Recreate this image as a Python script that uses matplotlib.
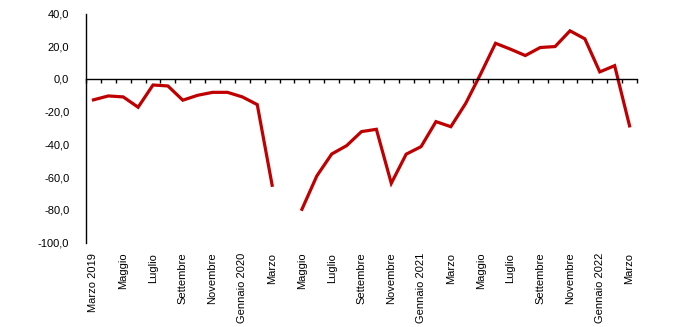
import numpy as np
import matplotlib
matplotlib.use('Agg')
import matplotlib.pyplot as plt

plt.rcParams['font.family'] = ['Liberation Sans', 'DejaVu Sans']

# --- DATI (variazioni %, marzo 2019 - marzo 2022) ---
mesi = ['Marzo 2019', 'Aprile', 'Maggio', 'Giugno', 'Luglio', 'Agosto', 'Settembre',
        'Ottobre', 'Novembre', 'Dicembre', 'Gennaio 2020', 'Febbraio', 'Marzo',
        'Aprile', 'Maggio', 'Giugno', 'Luglio', 'Agosto', 'Settembre', 'Ottobre',
        'Novembre', 'Dicembre', 'Gennaio 2021', 'Febbraio', 'Marzo', 'Aprile',
        'Maggio', 'Giugno', 'Luglio', 'Agosto', 'Settembre', 'Ottobre', 'Novembre',
        'Dicembre', 'Gennaio 2022', 'Febbraio', 'Marzo']
valori = [-12.8, -10.4, -11.0, -17.3, -3.7, -4.3, -13.0, -10.0, -8.2, -8.2,
          -11.0, -15.7, -65.0, np.nan, -79.7, -59.3, -45.9, -40.8, -32.2, -30.8,
          -63.8, -46.0, -41.4, -26.1, -29.2, -14.9, 3.0, 21.8, 18.2, 14.3,
          19.2, 19.8, 29.4, 24.5, 4.3, 8.1, -28.7]
yticks = [40, 20, 0, -20, -40, -60, -80, -100]

n = len(mesi)
x = np.arange(n)

fig = plt.figure(figsize=(7, 3.27), dpi=100)
ax = fig.add_axes([86 / 700, 1 - 242.5 / 327, (637 - 86) / 700, (242.5 - 13.5) / 327])

ax.plot(x, valori, color='#C00000', linewidth=2.3, solid_joinstyle='miter')

ax.set_xlim(-0.5, n - 0.5)
ax.set_ylim(-100, 40)
ax.set_yticks(yticks)
ax.set_yticklabels([f'{v:.1f}'.replace('.', ',') for v in yticks], fontsize=8)
ax.tick_params(axis='y', length=0, pad=12)

# asse x sullo zero, tacche ai confini delle categorie
ax.spines['bottom'].set_position(('data', 0))
ax.spines['top'].set_visible(False)
ax.spines['right'].set_visible(False)
ax.spines['left'].set_linewidth(1)
ax.spines['bottom'].set_linewidth(1)
ax.set_xticks(np.arange(n + 1) - 0.5)
ax.set_xticklabels([])
ax.tick_params(axis='x', direction='out', length=3, width=1)

# etichette mesi in basso, una ogni due
for i in range(0, n, 2):
    ax.text(x[i], -0.045, mesi[i], transform=ax.get_xaxis_transform(),
            rotation=90, ha='center', va='top', fontsize=8)

fig.savefig('out.png', dpi=100)
